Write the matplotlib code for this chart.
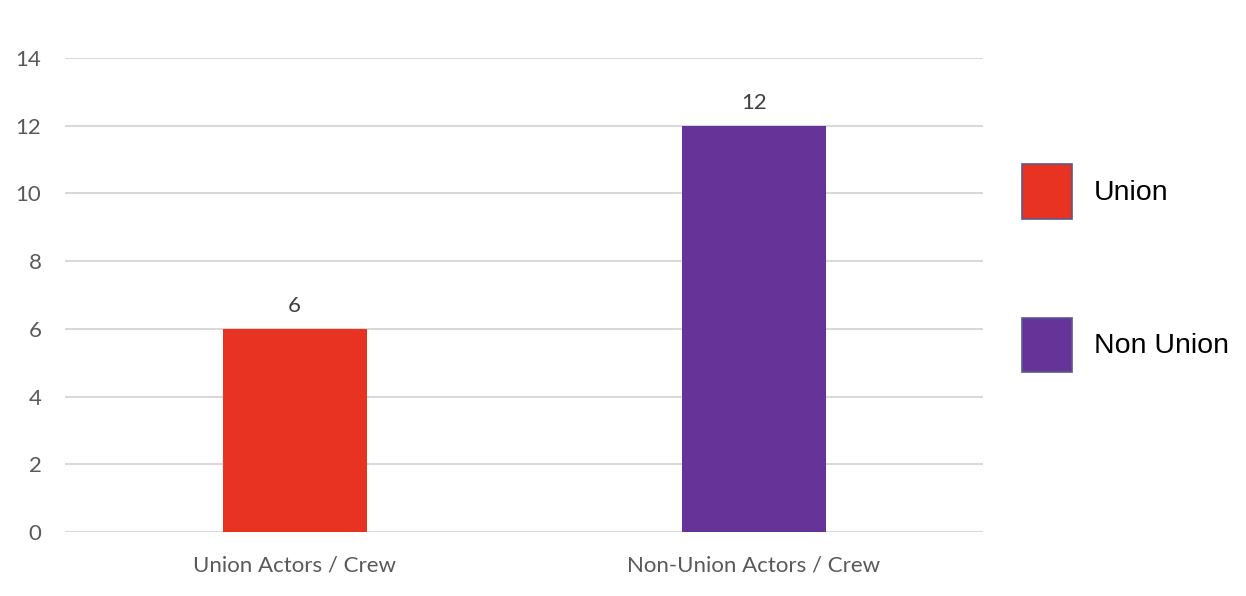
import matplotlib.pyplot as plt
from matplotlib.patches import Patch

categories = ['Union Actors / Crew', 'Non-Union Actors / Crew']
counts = [6, 12]
colors = ['#e83323', '#663399']
legend_labels = ['Union', 'Non Union']

fig = plt.figure(figsize=(12.46, 5.96), dpi=100)
ax = fig.add_axes([0.0522, 0.107, 0.737, 0.796])

x = range(len(categories))
bars = ax.bar(x, counts, width=0.314, color=colors, zorder=3)
ax.bar_label(bars, padding=9, fontsize=16, color='#404040', family='Lato')

ax.set_xlim(-0.5, 1.5)
ax.set_ylim(0, 14)
ax.set_yticks(range(0, 15, 2))
ax.set_xticks(list(x))
ax.set_xticklabels(categories)
ax.grid(axis='y', color='#d9d9d9', linewidth=1.5, zorder=0)
for s in ax.spines.values():
    s.set_visible(False)
ax.tick_params(length=0, labelsize=16, labelcolor='#595959')
ax.tick_params(axis='x', pad=17)
ax.tick_params(axis='y', pad=17)
for lab in ax.get_xticklabels() + ax.get_yticklabels():
    lab.set_family('Lato')

# legend on the right, big square swatches
handles = [Patch(facecolor=c, edgecolor='#5a5a8c', linewidth=1.2, label=l)
           for c, l in zip(colors, legend_labels)]
fig.legend(handles=handles, loc='upper left', bbox_to_anchor=(0.7995, 0.767),
           frameon=False, handlelength=1.78, handleheight=2.55,
           labelspacing=3.48, handletextpad=0.75,
           prop={'family': 'Liberation Sans', 'size': 20.5})

fig.savefig('out.png', dpi=100)
